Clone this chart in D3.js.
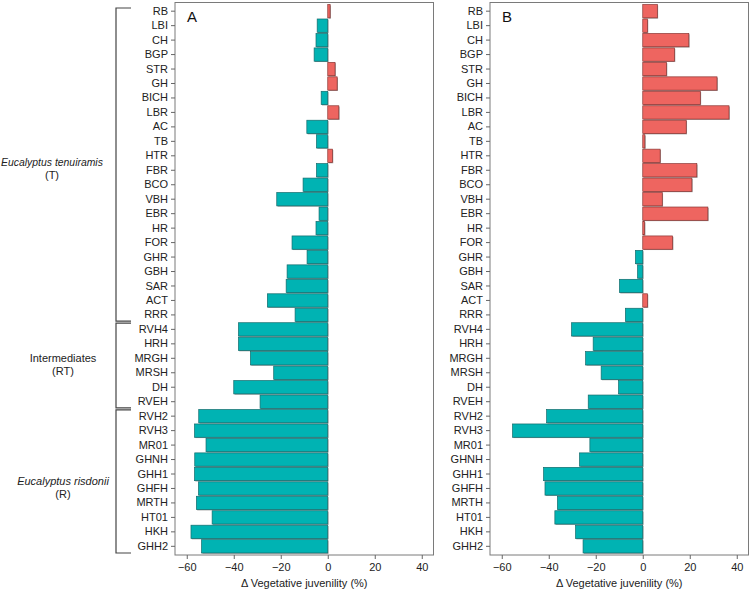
<!DOCTYPE html>
<html><head><meta charset="utf-8">
<script src="https://cdn.jsdelivr.net/npm/d3@7"></script>
<style>body{margin:0;background:#fff}svg{display:block;font-family:"Liberation Sans",Arial,sans-serif}</style>
</head><body><svg id="c" width="750" height="591"></svg>
<script>
const populations = ["RB","LBI","CH","BGP","STR","GH","BICH","LBR","AC","TB","HTR","FBR","BCO","VBH","EBR","HR","FOR","GHR","GBH","SAR","ACT","RRR",
  "RVH4","HRH","MRGH","MRSH","DH","RVEH",
  "RVH2","RVH3","MR01","GHNH","GHH1","GHFH","MRTH","HT01","HKH","GHH2"];
const panelA = [1.0,-4.5,-5.0,-5.8,3.1,4.0,-2.8,4.7,-8.9,-4.8,2.0,-4.8,-10.5,-21.7,-3.7,-5.0,-15.2,-8.8,-17.3,-17.7,-25.7,-13.9,
  -38.0,-38.0,-32.9,-23.0,-40.0,-28.8,
  -54.9,-56.7,-51.8,-56.6,-56.7,-55.0,-55.9,-49.2,-58.2,-53.7];
const panelB = [6.2,2.0,19.6,13.5,10.1,31.6,24.5,36.7,18.5,0.9,7.4,23.0,20.9,8.3,27.7,0.8,12.7,-3.1,-2.2,-9.9,2.0,-7.4,
  -30.3,-21.1,-24.3,-17.7,-10.3,-23.2,
  -40.9,-55.4,-22.5,-26.9,-42.2,-41.6,-36.3,-37.4,-28.6,-25.4];
const groups = [
  {name:"Eucalyptus tenuiramis", code:"(T)", first:"RB", last:"RRR", italic:true},
  {name:"Intermediates", code:"(RT)", first:"RVH4", last:"RVEH", italic:false},
  {name:"Eucalyptus risdonii", code:"(R)", first:"RVH2", last:"GHH2", italic:true}
];
const xTicks = [-60,-40,-20,0,20,40];
const xDomain = [-65,45];
const panelLabels = ["A","B"];
const axisTitle = "\u0394 Vegetative juvenility (%)";

const svg = d3.select("#c");
const y = d3.scaleBand().domain(populations).range([2.5,555]).paddingInner(0.08).paddingOuter(0.14);
const posCol = "#ee6560", negCol = "#00b3b3";
const posStroke = "#8b3734", negStroke = "#136b6c";
const FONT = '"Liberation Sans",Arial,sans-serif';

function drawPanel(x0, x1, values, label){
  const x = d3.scaleLinear().domain(xDomain).range([x0,x1]);
  const g = svg.append("g");
  const data = populations.map((p,i)=>({p, v:values[i]}));
  g.selectAll("rect.sh").data(data).join("rect").attr("class","sh")
    .attr("x", d=>Math.min(x(0),x(d.v))+0.8).attr("y", d=>y(d.p)+0.8)
    .attr("width", d=>Math.abs(x(d.v)-x(0))).attr("height", y.bandwidth())
    .attr("fill","#9a9a9a");
  g.selectAll("rect.bar").data(data).join("rect").attr("class","bar")
    .attr("x", d=>Math.min(x(0),x(d.v))).attr("y", d=>y(d.p))
    .attr("width", d=>Math.abs(x(d.v)-x(0))).attr("height", y.bandwidth())
    .attr("fill", d=>d.v>=0?posCol:negCol)
    .attr("stroke", d=>d.v>=0?posStroke:negStroke).attr("stroke-width",0.7);
  g.append("rect").attr("x",x0).attr("y",2.5).attr("width",x1-x0).attr("height",552.5)
    .attr("fill","none").attr("stroke","#7a7a7a").attr("stroke-width",1);
  const ya = g.append("g").attr("transform",`translate(${x0},0)`)
    .call(d3.axisLeft(y).tickSize(4).tickPadding(3));
  ya.select(".domain").remove();
  ya.selectAll(".tick line").attr("stroke","#666");
  ya.selectAll(".tick text").attr("fill","#222").attr("font-size",11).attr("font-family",FONT);
  const xa = g.append("g").attr("transform",`translate(0,555)`)
    .call(d3.axisBottom(x).tickValues(xTicks).tickSize(4).tickPadding(4));
  xa.select(".domain").remove();
  xa.selectAll(".tick line").attr("stroke","#666");
  xa.selectAll(".tick text").attr("fill","#222").attr("font-size",11).attr("font-family",FONT);
  g.append("text").attr("x",(x0+x1)/2).attr("y",587).attr("text-anchor","middle")
    .attr("font-size",11).attr("fill","#222").text(axisTitle);
  g.append("text").attr("x",x0+12).attr("y",22).attr("font-size",15).attr("fill","#111").text(label);
}
drawPanel(175, 433.5, panelA, panelLabels[0]);
drawPanel(490, 748.5, panelB, panelLabels[1]);

const step = y.step();
const bx = 116, bx2 = 131;
const labelX = [52,63,63];
const labelDy = [-3,-8,0];
groups.forEach((gr,i)=>{
  let top = y(gr.first) - (step - y.bandwidth())/2 + 1;
  let bot = y(gr.last) + y.bandwidth() + (step - y.bandwidth())/2 - 1;
  if(i===0) top = y(gr.first) + 3.5;
  if(i===groups.length-1) bot = y(gr.last) + y.bandwidth();
  svg.append("path").attr("d",`M${bx2},${top}H${bx}V${bot}H${bx2}`)
    .attr("fill","none").attr("stroke","#444").attr("stroke-width",1.2);
  const cy = (top+bot)/2 + labelDy[i];
  const t1 = svg.append("text").attr("x",labelX[i]).attr("y",cy+4).attr("text-anchor","middle")
    .attr("font-size",11).attr("fill","#222").attr("font-style",gr.italic?"italic":"normal").text(gr.name);
  const w = t1.node().getComputedTextLength();
  if (labelX[i] - w/2 < 1) {
    const fs = 11 * (2*labelX[i]-2) / w;
    t1.attr("font-size", fs);
  }
  svg.append("text").attr("x",labelX[i]).attr("y",cy+17).attr("text-anchor","middle")
    .attr("font-size",11).attr("fill","#222").text(gr.code);
});
</script></body></html>
